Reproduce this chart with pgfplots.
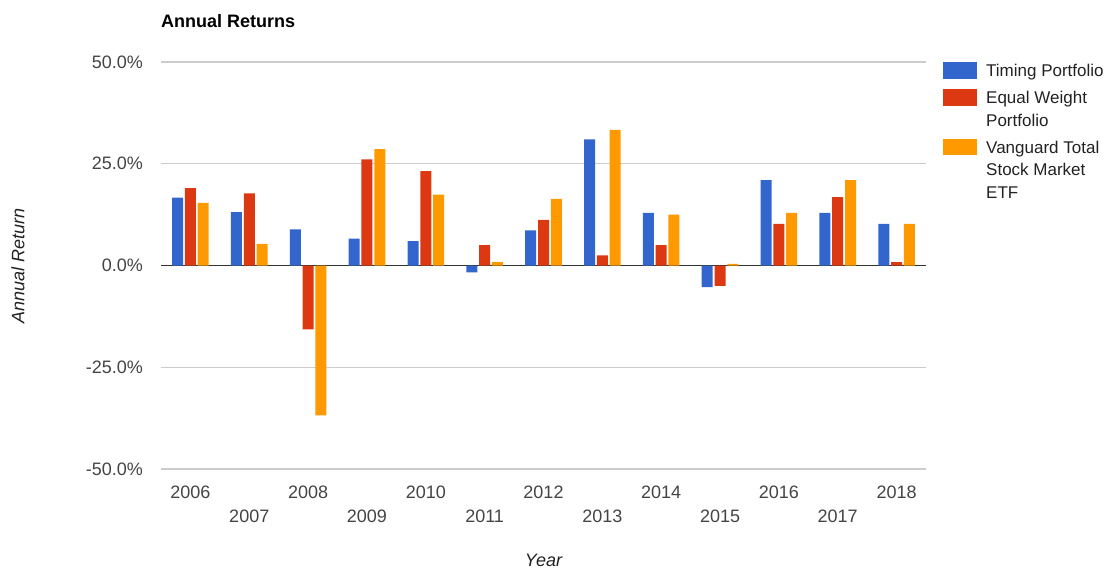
\documentclass[border=0pt]{standalone}
\usepackage{fontspec}
\setmainfont{Liberation Sans}
\usepackage{pgfplots}
\usepackage{pgfplotstable}
\pgfplotsset{compat=1.18}

\definecolor{gblue}{HTML}{3366CC}
\definecolor{gred}{HTML}{DC3912}
\definecolor{gorange}{HTML}{FF9900}
\definecolor{ticktext}{HTML}{444444}
\definecolor{labtext}{HTML}{222222}
\definecolor{gridc}{HTML}{CCCCCC}
\definecolor{zeroc}{HTML}{333333}

% annual returns in percent, x = year - 2006
\pgfplotstableread{
x  timing equal vti
0  16.7   19.0  15.4
1  13.1   17.7   5.3
2   8.9  -15.7 -36.8
3   6.6   26.1  28.6
4   6.0   23.2  17.4
5  -1.7    5.0   0.8
6   8.6   11.2  16.4
7  31.0    2.5  33.3
8  12.9    5.0  12.5
9  -5.3   -5.0   0.4
10 21.0   10.2  12.9
11 12.9   16.8  21.0
12 10.2    0.8  10.2
}\returns

\begin{document}
\begin{tikzpicture}
\path[use as bounding box] (0pt,0pt) rectangle (1114pt,582pt);
\begin{axis}[
    at={(161pt,113pt)}, anchor=south west,
    scale only axis, width=765pt, height=407pt,
    ybar=1.8pt, bar width=11pt,
    xmin=-0.5, xmax=12.5, ymin=-50, ymax=50,
    axis line style={draw=none},
    major tick length=0pt,
    ymajorgrids, grid style={gridc, line width=1.2pt},
    ytick={-50,-25,0,25,50},
    yticklabel={\pgfmathprintnumber[fixed,fixed zerofill,precision=1]{\tick}\%},
    /pgf/number format/assume math mode=true,
    yticklabel style={anchor=east, inner sep=0pt, xshift=-18pt,
        font=\fontsize{18}{21}\selectfont, text=ticktext},
    xtick={0,2,...,12},
    xticklabels={2006,2008,2010,2012,2014,2016,2018},
    extra x ticks={1,3,5,7,9,11},
    extra x tick labels={2007,2009,2011,2013,2015,2017},
    extra x tick style={xticklabel style={yshift=-24pt}},
    xticklabel style={anchor=north, inner sep=0pt, yshift=-16.5pt,
        font=\fontsize{18}{21}\selectfont, text=ticktext},
    extra y ticks={0}, extra y tick labels={},
    extra y tick style={grid style={zeroc, line width=1.5pt}},
    title={Annual Returns},
    title style={at={(axis description cs:0,1.086)}, anchor=west, inner sep=0pt,
        font=\fontsize{18}{21}\selectfont\bfseries, text=black},
    xlabel={Year},
    xlabel style={at={(axis description cs:0.5,-0.2236)}, anchor=center,
        font=\fontsize{18}{21}\selectfont\itshape, text=labtext},
    ylabel={Annual Return},
    ylabel style={at={(axis description cs:-0.187,0.5)}, anchor=center, rotate=0,
        font=\fontsize{18}{21}\selectfont\itshape, text=labtext},
    legend style={at={(axis description cs:1.0222,1)}, anchor=north west,
        draw=none, fill=none, inner sep=0pt, row sep=9pt, column sep=7pt,
        font=\fontsize{17}{22.5}\selectfont, text=labtext,
        cells={anchor=north west, align=left, inner sep=0pt}},
    legend image code/.code={\draw[#1,draw=none] (0pt,-16.5pt) rectangle (34pt,0pt);},
]
\addplot[fill=gblue, draw=none] table[x=x, y=timing] {\returns};
\addlegendentry{Timing Portfolio}
\addplot[fill=gred, draw=none] table[x=x, y=equal] {\returns};
\addlegendentry{Equal Weight\\Portfolio}
\addplot[fill=gorange, draw=none] table[x=x, y=vti] {\returns};
\addlegendentry{Vanguard Total\\Stock Market\\ETF}
\end{axis}
\end{tikzpicture}
\end{document}
